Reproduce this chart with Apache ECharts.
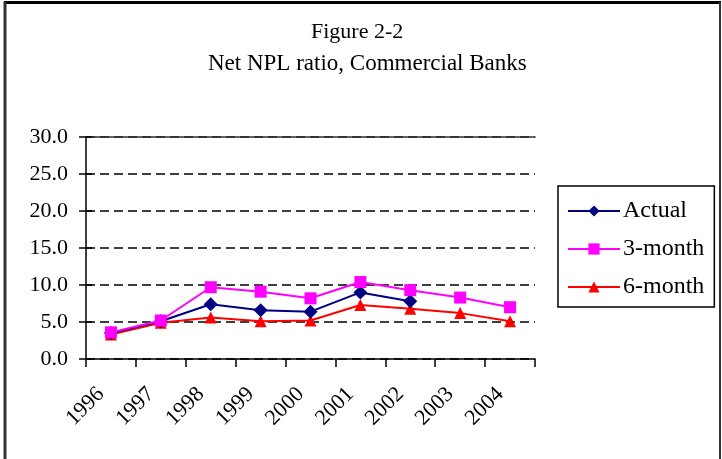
<!DOCTYPE html>
<html>
<head>
<meta charset="utf-8">
<script src="https://cdn.jsdelivr.net/npm/echarts@6/dist/echarts.min.js"></script>
<style>
  html, body { margin: 0; padding: 0; background: #fff; }
  #chart { width: 722px; height: 459px; }
</style>
</head>
<body>
<div id="chart"></div>
<script>
// Years on the category axis
const years = ['1996', '1997', '1998', '1999', '2000', '2001', '2002', '2003', '2004'];
// Net NPL ratio (%), observed and projected
const actual = [3.5, 5.1, 7.4, 6.6, 6.4, 9.0, 7.8, null, null];
const threeMonth = [3.6, 5.2, 9.7, 9.1, 8.2, 10.4, 9.3, 8.3, 7.0];
const sixMonth = [3.3, 4.9, 5.6, 5.1, 5.2, 7.3, 6.8, 6.2, 5.1];
// Value-axis range and step
const yMin = 0, yMax = 30, yStep = 5;

const serif = '"Liberation Serif", "DejaVu Serif", serif';

const chart = echarts.init(document.getElementById('chart'), null, { renderer: 'canvas' });

chart.setOption({
  backgroundColor: '#fff',
  animation: false,
  textStyle: { fontFamily: serif, color: '#000' },
  graphic: [
    // outer frame of the figure
    { type: 'line', shape: { x1: 4, y1: 2.5, x2: 721, y2: 2.5 }, style: { stroke: '#000', lineWidth: 3 } },
    { type: 'line', shape: { x1: 5, y1: 2, x2: 5, y2: 459 }, style: { stroke: '#333', lineWidth: 3 } },
    { type: 'line', shape: { x1: 720, y1: 2, x2: 720, y2: 459 }, style: { stroke: '#333', lineWidth: 2 } },
    { type: 'text', left: 311, top: 21, style: { text: 'Figure 2-2', font: '22px ' + serif, fill: '#000' } },
    { type: 'text', left: 208, top: 52, style: { text: 'Net NPL ratio, Commercial Banks', font: '23px ' + serif, fill: '#000' } }
  ],
  legend: {
    orient: 'vertical',
    left: 558,
    top: 186,
    padding: [13, 10, 8, 9],
    itemWidth: 52,
    itemHeight: 14,
    itemGap: 14,
    borderColor: '#000',
    borderWidth: 1.5,
    textStyle: { fontFamily: serif, fontSize: 24, color: '#000', padding: [0, 0, 0, -2] },
    data: ['Actual', '3-month', '6-month']
  },
  grid: { left: 86, right: 187, top: 137, bottom: 100, containLabel: false },
  xAxis: [
    {
      type: 'category',
      data: years,
      boundaryGap: true,
      axisLine: { lineStyle: { color: '#000', width: 1.5 } },
      axisTick: { show: true, length: 8, alignWithLabel: false, lineStyle: { color: '#000', width: 1.5 } },
      axisLabel: { rotate: 45, margin: 22, padding: [0, 14, 0, 0], fontFamily: serif, fontSize: 22, color: '#000' },
      splitLine: { show: false }
    },
    {
      type: 'category',
      data: years,
      position: 'top',
      axisLine: { show: true, onZero: false, lineStyle: { color: '#333', width: 1.5 } },
      axisTick: { show: false },
      axisLabel: { show: false }
    }
  ],
  yAxis: [
    {
      type: 'value',
      min: yMin,
      max: yMax,
      interval: yStep,
      axisLine: { show: true, lineStyle: { color: '#000', width: 1.5 } },
      axisTick: { show: true, length: 7, lineStyle: { color: '#000', width: 1.5 } },
      axisLabel: { margin: 18, fontFamily: serif, fontSize: 22, color: '#000', formatter: v => v.toFixed(1) },
      splitLine: { show: true, lineStyle: { color: '#000', width: 1.5, type: [9, 5] } }
    },
    {
      type: 'value',
      min: yMin,
      max: yMax,
      interval: yStep,
      position: 'left',
      axisLine: { show: false },
      axisTick: { show: true, inside: true, length: 6, lineStyle: { color: '#000', width: 1.5 } },
      axisLabel: { show: false },
      splitLine: { show: false }
    }
  ],
  series: [
    {
      name: '6-month',
      type: 'line',
      data: sixMonth,
      color: '#ff0000',
      symbol: 'triangle',
      symbolSize: 12,
      lineStyle: { width: 2 },
      z: 3
    },
    {
      name: 'Actual',
      type: 'line',
      data: actual,
      color: '#000080',
      symbol: 'diamond',
      symbolSize: 14,
      lineStyle: { width: 2 },
      z: 4
    },
    {
      name: '3-month',
      type: 'line',
      data: threeMonth,
      color: '#ff00ff',
      symbol: 'rect',
      symbolSize: 12,
      lineStyle: { width: 2 },
      z: 5
    }
  ]
});
</script>
</body>
</html>
